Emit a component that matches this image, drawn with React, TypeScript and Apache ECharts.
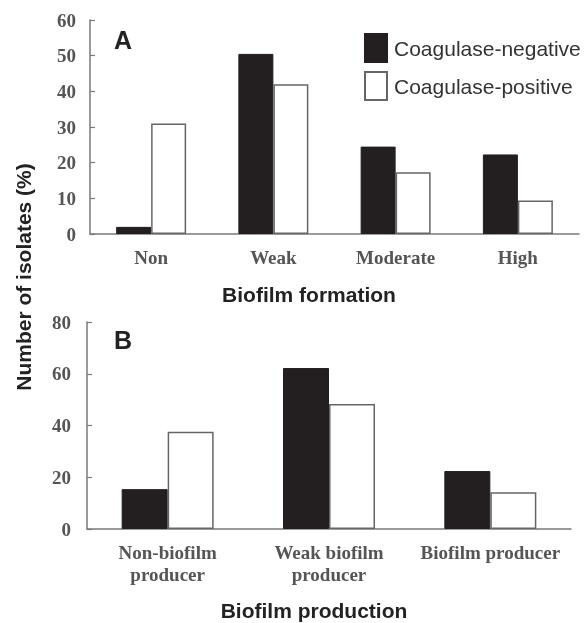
import React, { useEffect, useRef } from "react";
import * as echarts from "echarts";

const categoriesA = ["Non", "Weak", "Moderate", "High"];
const negativeA = [2, 50.5, 24.5, 22.3];
const positiveA = [31, 42, 17.3, 9.4];

const categoriesB = ["Non-biofilm\nproducer", "Weak biofilm\nproducer", "Biofilm producer"];
const negativeB = [15.4, 62.2, 22.4];
const positiveB = [37.6, 48.3, 14.2];

const ticksA = { min: 0, max: 60, interval: 10 };
const ticksB = { min: 0, max: 80, interval: 20 };

const NEG = "Coagulase-negative";
const POS = "Coagulase-positive";

export default function App() {
  const ref = useRef<HTMLDivElement>(null);
  useEffect(() => {
    if (!ref.current) return;
    const chart = echarts.init(ref.current, null, { renderer: "svg" });
    const axisColor = "#7a7a7a";
    const serif = "'Liberation Serif', 'Times New Roman', serif";
    const sans = "'Liberation Sans', Arial, sans-serif";
    const labelStyle = {
      fontFamily: serif,
      fontWeight: "bold" as const,
      fontSize: 19,
      color: "#555",
    };
    const xAxisCommon = (data: string[], idx: number) => ({
      type: "category" as const,
      gridIndex: idx,
      data,
      axisLine: { lineStyle: { color: axisColor, width: 1.5 } },
      axisTick: { inside: true, length: 4, lineStyle: { color: axisColor, width: 1.2 } },
      axisLabel: {
        ...labelStyle,
        margin: 12,
        lineHeight: 22,
        verticalAlign: "top" as const,
        interval: 0,
        hideOverlap: false,
      },
      splitLine: { show: false },
    });
    const yAxisCommon = (t: { min: number; max: number; interval: number }, idx: number, margin: number) => ({
      type: "value" as const,
      gridIndex: idx,
      min: t.min,
      max: t.max,
      interval: t.interval,
      axisLine: { show: true, lineStyle: { color: axisColor, width: 1.5 } },
      axisTick: { show: true, inside: true, length: 5, lineStyle: { color: axisColor, width: 1.2 } },
      axisLabel: { ...labelStyle, margin },
      splitLine: { show: false },
    });
    const negStyle = { color: "#231f20", borderColor: "#231f20", borderWidth: 1 };
    const posStyle = { color: "#ffffff", borderColor: "#666", borderWidth: 1.5 };

    chart.setOption({
      animation: false,
      grid: [
        { left: 90, top: 20, width: 489, height: 214 },
        { left: 87, top: 322, width: 484, height: 207 },
      ],
      legend: {
        orient: "vertical",
        left: 359,
        top: 28,
        itemWidth: 22,
        itemHeight: 28,
        itemGap: 8,
        icon: "rect",
        data: [NEG, POS],
        textStyle: { fontFamily: sans, fontSize: 21, color: "#333", padding: [0, 0, 0, 2] },
      },
      xAxis: [xAxisCommon(categoriesA, 0), xAxisCommon(categoriesB, 1)],
      yAxis: [yAxisCommon(ticksA, 0, 14), yAxisCommon(ticksB, 1, 16)],
      series: [
        { type: "bar", name: NEG, xAxisIndex: 0, yAxisIndex: 0, data: negativeA, barWidth: 35, barGap: "0%", itemStyle: negStyle },
        { type: "bar", name: POS, xAxisIndex: 0, yAxisIndex: 0, data: positiveA, barWidth: 35, barGap: "0%", itemStyle: posStyle },
        { type: "bar", name: NEG, xAxisIndex: 1, yAxisIndex: 1, data: negativeB, barWidth: 46, barGap: "0%", itemStyle: negStyle },
        { type: "bar", name: POS, xAxisIndex: 1, yAxisIndex: 1, data: positiveB, barWidth: 46, barGap: "0%", itemStyle: posStyle },
      ],
      graphic: [
        { type: "text", left: 114, top: 27, style: { text: "A", font: `bold 25px ${sans}`, fill: "#222" } },
        { type: "text", left: 114, top: 327, style: { text: "B", font: `bold 25px ${sans}`, fill: "#222" } },
        {
          type: "text",
          x: 309,
          y: 294,
          style: { text: "Biofilm formation", font: `bold 21px ${sans}`, fill: "#222", align: "center", verticalAlign: "middle" },
        },
        {
          type: "text",
          x: 314,
          y: 610,
          style: { text: "Biofilm production", font: `bold 21px ${sans}`, fill: "#222", align: "center", verticalAlign: "middle" },
        },
        {
          type: "text",
          x: 23,
          y: 277,
          rotation: Math.PI / 2,
          style: { text: "Number of isolates (%)", font: `bold 21px ${sans}`, fill: "#222", align: "center", verticalAlign: "middle" },
        },
      ],
    });
    return () => chart.dispose();
  }, []);
  return <div ref={ref} style={{ position: "fixed", left: 0, top: 0, width: 584, height: 623 }} />;
}
